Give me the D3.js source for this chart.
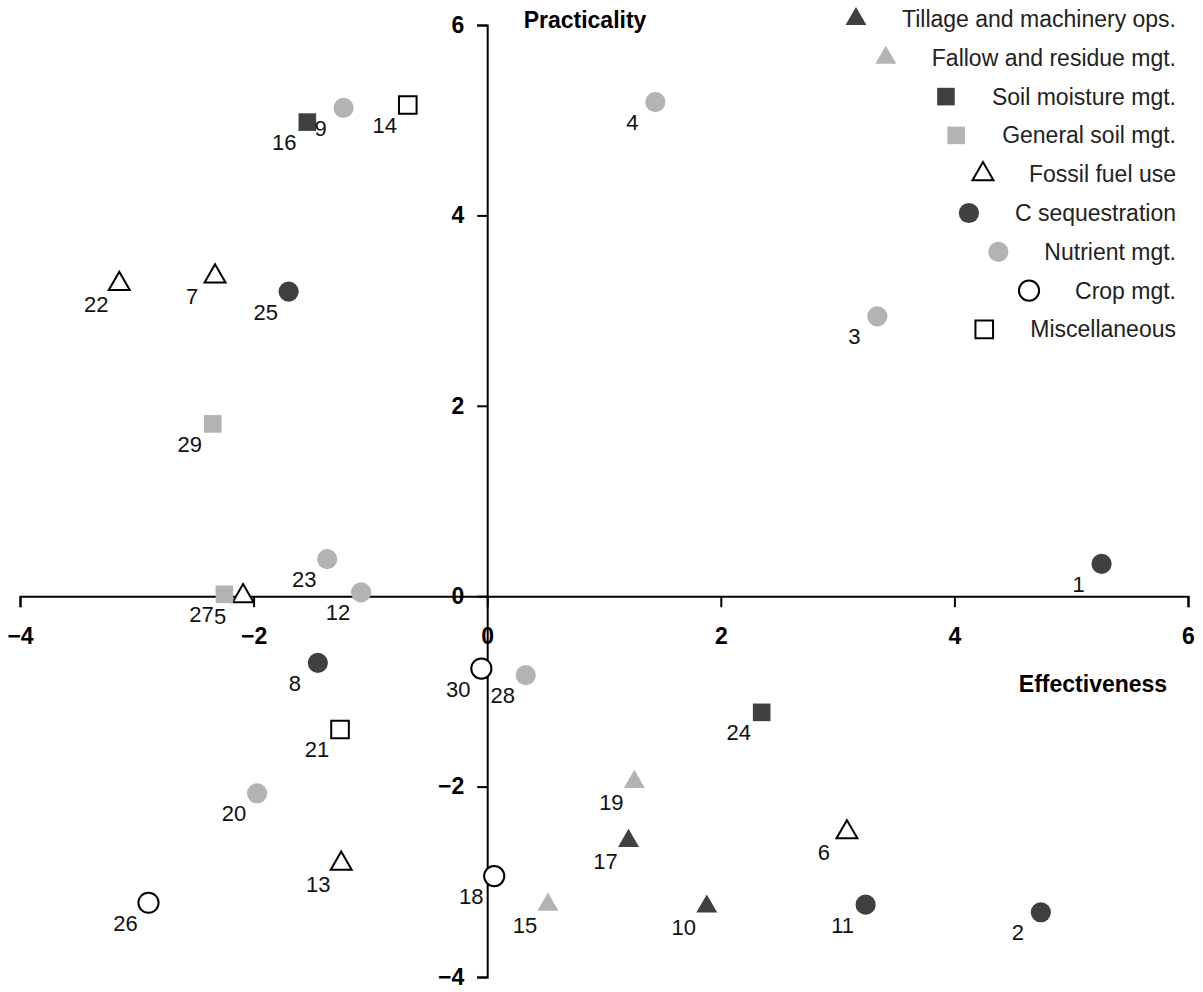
<!DOCTYPE html>
<html>
<head>
<meta charset="utf-8">
<script src="https://cdn.jsdelivr.net/npm/d3@7"></script>
<style>
  html, body { margin: 0; padding: 0; background: #fff; }
  svg { display: block; font-family: "Liberation Sans", Arial, sans-serif; }
  .axis text { font-size: 23px; font-weight: bold; font-family: "Liberation Sans", Arial, sans-serif; }
</style>
</head>
<body>
<svg id="chart" width="1203" height="992"></svg>
<script>
// Management options scored on effectiveness (x) and practicality (y)
const optionIds     = [1, 2, 3, 4, 5, 6, 7, 8, 9, 10, 11, 12, 13, 14, 15, 16, 17, 18, 19, 20, 21, 22, 23, 24, 25, 26, 27, 28, 29, 30];
const effectiveness = [5.26, 4.74, 3.34, 1.44, -2.09, 3.08, -2.33, -1.45, -1.23, 1.88, 3.24, -1.08, -1.25, -0.68, 0.52, -1.54, 1.21, 0.06, 1.26, -1.97, -1.26, -3.15, -1.37, 2.35, -1.70, -2.90, -2.25, 0.33, -2.35, -0.05];
const practicality  = [0.34, -3.32, 2.94, 5.19, 0.00, -2.48, 3.36, -0.70, 5.13, -3.26, -3.24, 0.04, -2.81, 5.16, -3.24, 4.98, -2.57, -2.94, -1.95, -2.07, -1.40, 3.28, 0.39, -1.22, 3.20, -3.22, 0.02, -0.83, 1.81, -0.76];
// category index of each option (into the categories list below)
const optionGroup   = [5, 5, 6, 6, 4, 4, 4, 5, 6, 0, 5, 6, 4, 8, 1, 2, 0, 7, 1, 6, 8, 4, 6, 2, 5, 7, 3, 6, 3, 7];

const categories = ["Tillage and machinery ops.", "Fallow and residue mgt.", "Soil moisture mgt.", "General soil mgt.",
                    "Fossil fuel use", "C sequestration", "Nutrient mgt.", "Crop mgt.", "Miscellaneous"];
const categoryShape = ["triangle", "triangle", "square", "square", "triangle", "circle", "circle", "circle", "square"];
const categoryFill  = ["dark", "light", "dark", "light", "open", "dark", "light", "open", "open"];

const xTicks = [-4, -2, 0, 2, 4, 6];
const yTicks = [-4, -2, 0, 2, 4, 6];

const DARK = "#404040", LIGHT = "#b3b3b3";

const svg = d3.select("#chart");
const x = d3.scaleLinear().domain([-4, 6]).range([20, 1188]);
const y = d3.scaleLinear().domain([-4, 6]).range([977, 25]);

const shapes = { triangle: d3.symbolTriangle, square: d3.symbolSquare, circle: d3.symbolCircle };
const sizes  = { triangle: 190, square: 310, circle: 320 };
const symbolPath = g => d3.symbol().type(shapes[categoryShape[g]]).size(sizes[categoryShape[g]])();
function styleMark(sel, g) {
  const f = categoryFill[g];
  sel.attr("fill", f === "dark" ? DARK : f === "light" ? LIGHT : "#fff")
     .attr("stroke", f === "open" ? "#000" : "none")
     .attr("stroke-width", f === "open" ? 2 : 0);
}

// crossing axes
const xAxis = d3.axisBottom(x).tickValues(xTicks).tickSize(11).tickPadding(20).tickFormat(d3.format("d"));
const yAxis = d3.axisLeft(y).tickValues(yTicks).tickSize(10).tickPadding(13).tickFormat(d3.format("d"));

function styleAxis(g) {
  g.attr("class", "axis").attr("font-size", null).attr("font-family", null);
  g.selectAll("path, line").attr("stroke", "#000").attr("stroke-width", 2);
  g.selectAll("text").attr("fill", "#000");
}
svg.append("g").attr("transform", `translate(0,${y(0)})`).call(xAxis).call(styleAxis);
svg.append("g").attr("transform", `translate(${x(0)},0)`).call(yAxis).call(styleAxis);

svg.append("text").attr("x", 585).attr("y", 28).attr("text-anchor", "middle")
   .style("font-size", "23px").style("font-weight", "bold").text("Practicality");
svg.append("text").attr("x", 1093).attr("y", 692).attr("text-anchor", "middle")
   .style("font-size", "23px").style("font-weight", "bold").text("Effectiveness");

// markers
const pts = optionIds.map((id, i) => ({ id, ex: effectiveness[i], pr: practicality[i], g: optionGroup[i] }));
svg.append("g").selectAll("path").data(pts).join("path")
   .attr("d", d => symbolPath(d.g))
   .attr("transform", d => `translate(${x(d.ex)},${y(d.pr)})`)
   .each(function (d) { styleMark(d3.select(this), d.g); });

// option numbers
svg.append("g").selectAll("text").data(pts).join("text")
   .attr("x", d => x(d.ex) - 23).attr("y", d => y(d.pr) + 28)
   .attr("text-anchor", "middle").style("font-size", "22px").attr("fill", "#111")
   .text(d => d.id);

// legend: right-aligned labels with the symbol ahead of each
const legend = svg.append("g");
categories.forEach((name, i) => {
  const cy = 19 + i * 38.8;
  const t = legend.append("text").attr("x", 1176).attr("y", cy + 8)
     .attr("text-anchor", "end").style("font-size", "23px").attr("fill", "#222").text(name);
  const w = t.node().getComputedTextLength();
  legend.append("path").attr("d", symbolPath(i))
     .attr("transform", `translate(${1176 - w - 46},${cy})`)
     .call(s => styleMark(s, i));
});
</script>
</body>
</html>
